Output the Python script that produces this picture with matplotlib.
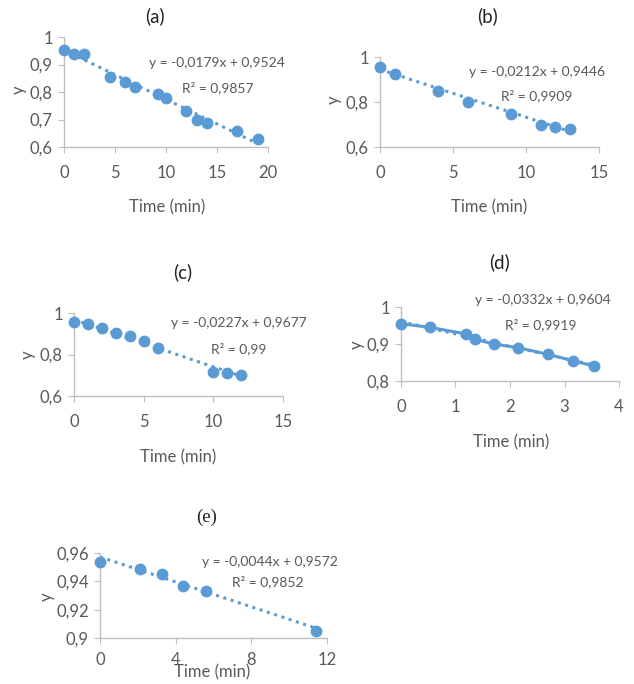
import numpy as np
import matplotlib
matplotlib.use("Agg")
import matplotlib.pyplot as plt
from matplotlib.ticker import FuncFormatter

plt.rcParams['font.family'] = ['Lato', 'DejaVu Sans']

W, H = 634, 684
BLUE = '#5B9BD5'
GRAY = '#595959'
SPINE = '#BFBFBF'

# panel data
xa = [0, 1, 2, 4.5, 6, 7, 9.2, 10, 12, 13, 14, 17, 19]
ya = [0.953, 0.94, 0.94, 0.855, 0.836, 0.82, 0.793, 0.78, 0.73, 0.70, 0.688, 0.66, 0.628]
xb = [0, 1, 4, 6, 9, 11, 12, 13]
yb = [0.955, 0.925, 0.85, 0.80, 0.745, 0.70, 0.688, 0.68]
xc = [0, 1, 2, 3, 4, 5, 6, 10, 11, 12]
yc = [0.955, 0.945, 0.93, 0.905, 0.888, 0.865, 0.83, 0.715, 0.71, 0.70]
xd = [0, 0.53, 1.2, 1.35, 1.7, 2.15, 2.7, 3.15, 3.55]
yd = [0.955, 0.945, 0.927, 0.913, 0.90, 0.89, 0.872, 0.855, 0.84]
xe = [0, 2.1, 3.3, 4.4, 5.6, 11.4]
ye = [0.954, 0.949, 0.945, 0.937, 0.933, 0.905]

# trendline coefficients (slope, intercept) and labels
slopes = [-0.0179, -0.0212, -0.0227, -0.0332, -0.0044]
intercepts = [0.9524, 0.9446, 0.9677, 0.9604, 0.9572]
eq_labels = ['y = -0,0179x + 0,9524', 'y = -0,0212x + 0,9446', 'y = -0,0227x + 0,9677',
             'y = -0,0332x + 0,9604', 'y = -0,0044x + 0,9572']
r2_labels = ['R² = 0,9857', 'R² = 0,9909', 'R² = 0,99', 'R² = 0,9919', 'R² = 0,9852']
titles = ['(a)', '(b)', '(c)', '(d)', '(e)']

xticks_all = [[0, 5, 10, 15, 20], [0, 5, 10, 15], [0, 5, 10, 15], [0, 1, 2, 3, 4], [0, 4, 8, 12]]
yticks_all = [[0.6, 0.7, 0.8, 0.9, 1.0], [0.6, 0.8, 1.0], [0.6, 0.8, 1.0], [0.8, 0.9, 1.0],
              [0.9, 0.92, 0.94, 0.96]]

# layout in pixels: axes box (left, top, right, bottom)
boxes = [(64, 37, 268, 147), (380, 57, 599, 147), (74, 313, 283, 396),
         (401, 307, 619, 381), (100, 553, 327, 638)]
title_pos = [(155, 16), (487, 16), (183, 272), (500, 262), (207, 517)]
eq_pos = [(217, 63), (537, 72), (239, 323), (543, 300), (270, 562)]
r2_pos = [(218, 88), (537, 96), (239, 349), (541, 325), (268, 582)]
ylab_pos = [(19, 90), (334, 100), (28, 355), (357, 345), (47, 597)]
xlab_pos = [(167, 207), (489, 207), (178, 457), (511, 442), (212, 672)]


def fx(px):
    return px / W


def fy(py):
    return 1 - py / H


def comma(v, pos):
    return ('%g' % v).replace('.', ',')


fig = plt.figure(figsize=(W / 100, H / 100), dpi=100)

data = [(xa, ya), (xb, yb), (xc, yc), (xd, yd), (xe, ye)]
for i, (x, y) in enumerate(data):
    l, t, r, b = boxes[i]
    ax = fig.add_axes([fx(l), fy(b), (r - l) / W, (b - t) / H])
    xt, yt = xticks_all[i], yticks_all[i]

    # trendline
    xs = np.array([min(x), max(x)])
    ax.plot(xs, slopes[i] * xs + intercepts[i], ls=(0, (1, 1.5)), lw=2.2, color=BLUE, zorder=2)
    if i == 3:
        ax.plot(x, y, '-', lw=2.2, color=BLUE, zorder=2)
    ax.plot(x, y, 'o', ms=7.5, color=BLUE, zorder=3, clip_on=False)

    ax.set_xlim(xt[0], xt[-1])
    ax.set_ylim(yt[0], yt[-1])
    ax.set_xticks(xt)
    ax.set_yticks(yt)
    ax.xaxis.set_major_formatter(FuncFormatter(comma))
    ax.yaxis.set_major_formatter(FuncFormatter(comma))
    for s in ['top', 'right']:
        ax.spines[s].set_visible(False)
    for s in ['left', 'bottom']:
        ax.spines[s].set_color(SPINE)
        ax.spines[s].set_linewidth(1)
    ax.tick_params(axis='both', colors=SPINE, labelcolor=GRAY, labelsize=12,
                   length=4, direction='out')
    ax.tick_params(axis='x', pad=9 if i != 4 else 6)
    ax.tick_params(axis='y', pad=4)

    title_font = 'Liberation Serif' if i == 4 else 'Lato'
    fig.text(fx(title_pos[i][0]), fy(title_pos[i][1]), titles[i], ha='center', va='center',
             fontsize=13.5, color='#222222', family=[title_font, 'DejaVu Sans'])
    fig.text(fx(eq_pos[i][0]), fy(eq_pos[i][1]), eq_labels[i], ha='center', va='center',
             fontsize=10, color=GRAY)
    fig.text(fx(r2_pos[i][0]), fy(r2_pos[i][1]), r2_labels[i], ha='center', va='center',
             fontsize=10, color=GRAY)
    fig.text(fx(ylab_pos[i][0]), fy(ylab_pos[i][1]), 'y', ha='center', va='center',
             rotation=90, fontsize=12, color=GRAY)
    fig.text(fx(xlab_pos[i][0]), fy(xlab_pos[i][1]), 'Time (min)', ha='center', va='center',
             fontsize=12, color=GRAY)

fig.savefig('out.png', dpi=100, facecolor='white')
